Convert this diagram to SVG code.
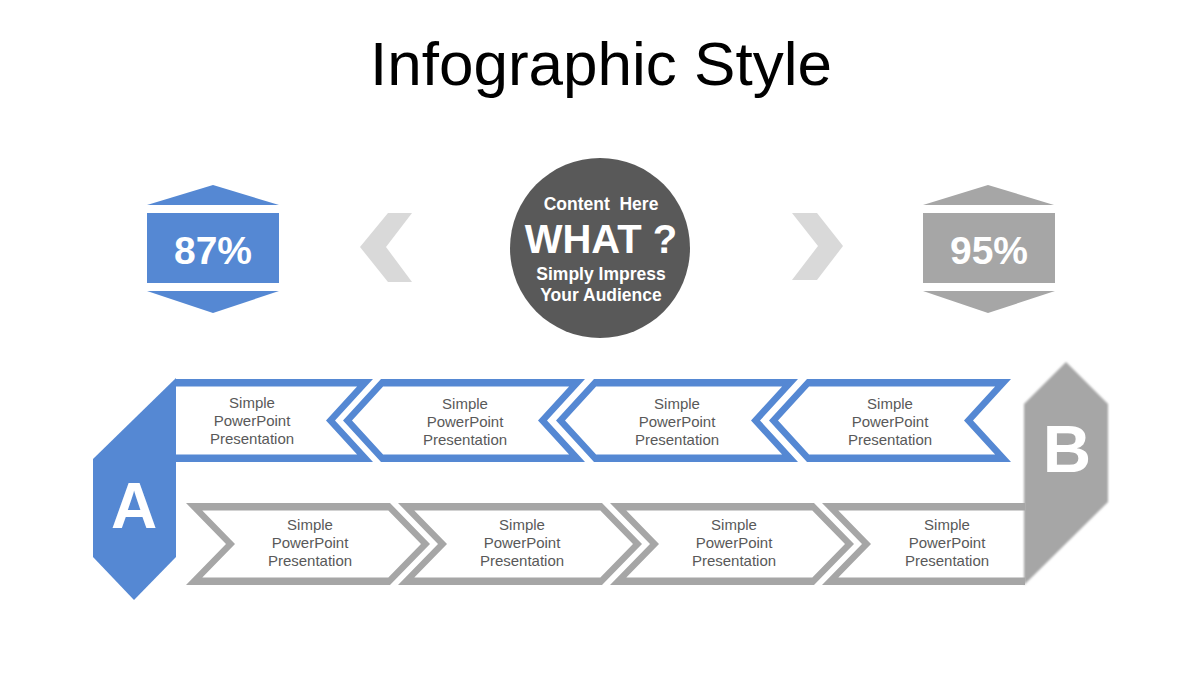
<svg xmlns="http://www.w3.org/2000/svg" xmlns:xlink="http://www.w3.org/1999/xlink" width="1200" height="675" viewBox="0 0 1200 675">
  <style>
    .title { font-family: "Liberation Sans", Arial, sans-serif; font-size: 62px; fill: #000; text-anchor: middle; }
    .blue { fill: #5588d3; }
    .gray { fill: #a6a6a6; }
    .light { fill: #d9d9d9; }
    .pct { font-family: "Liberation Sans", Arial, sans-serif; font-size: 39px; font-weight: bold; fill: #fff; text-anchor: middle; }
    .circ { font-family: "Liberation Sans", Arial, sans-serif; font-weight: bold; fill: #fff; text-anchor: middle; }
    .lbl { font-family: "Liberation Sans", Arial, sans-serif; font-size: 15px; fill: #595959; text-anchor: middle; }
    .big { font-family: "Liberation Sans", Arial, sans-serif; font-weight: bold; fill: #fff; text-anchor: middle; }
  </style>
  <defs>
    <path id="chevL" fill-rule="evenodd" d="M0,420.5 L38,379 L242,379 L204,420.5 L242,462 L38,462 Z M9,420.5 L40.1,386.5 L226.1,386.5 L195,420.5 L226.1,454.5 L40.1,454.5 Z"/>
    <path id="chevR" fill-rule="evenodd" d="M0,503 L204,503 L244,544 L204,585 L0,585 L40,544 Z M16.3,510.5 L202.3,510.5 L235,544 L202.3,577.5 L16.3,577.5 L49,544 Z"/>
    <filter id="soft" x="-10%" y="-10%" width="120%" height="120%">
      <feGaussianBlur stdDeviation="1"/>
    </filter>
  </defs>
  <rect width="1200" height="675" fill="#fff"/>
  <text class="title" x="601" y="85">Infographic Style</text>

  <g id="badge-87">
    <polygon class="blue" points="147,205 213,185 279,205"/>
    <rect class="blue" x="147" y="213" width="132" height="70"/>
    <polygon class="blue" points="147,291 279,291 213,313"/>
    <text class="pct" x="213" y="264">87%</text>
  </g>
  <g id="badge-95">
    <polygon class="gray" points="923,205 988,185 1054,205"/>
    <rect class="gray" x="923" y="213" width="132" height="70"/>
    <polygon class="gray" points="923,291 1055,291 988,313"/>
    <text class="pct" x="989" y="264">95%</text>
  </g>
  <g id="arrow-left">
    <polygon class="light" points="388,213 412,213 386,247 412,282 388,282 360,247"/>
  </g>
  <g id="arrow-right">
    <polygon class="light" points="792,213 817,213 843,246 817,280 792,280 818,246"/>
  </g>
  <g id="center">
    <circle cx="600" cy="248" r="90" fill="#595959"/>
    <text class="circ" x="601" y="210" font-size="17.5" xml:space="preserve">Content  Here</text>
    <text class="circ" x="601" y="253" font-size="40">WHAT ?</text>
    <text class="circ" x="601" y="280" font-size="17.5">Simply Impress</text>
    <text class="circ" x="601" y="301" font-size="17.5">Your Audience</text>
  </g>

  <g id="connectors">
    <g id="top-row">
      <path class="blue" fill-rule="evenodd" d="M176,379 L373,379 L335,420.5 L373,462 L176,462 Z M176,386.5 L357.1,386.5 L326,420.5 L357.1,454.5 L176,454.5 Z"/>
      <use xlink:href="#chevL" href="#chevL" class="blue" transform="translate(343,0)"/>
      <use xlink:href="#chevL" href="#chevL" class="blue" transform="translate(556,0)"/>
      <use xlink:href="#chevL" href="#chevL" class="blue" transform="translate(769,0)"/>
    </g>
    <g id="bottom-row">
      <use xlink:href="#chevR" href="#chevR" class="gray" transform="translate(186,0)"/>
      <use xlink:href="#chevR" href="#chevR" class="gray" transform="translate(398,0)"/>
      <use xlink:href="#chevR" href="#chevR" class="gray" transform="translate(610,0)"/>
      <path class="gray" fill-rule="evenodd" d="M822,503 L1025,503 L1025,585 L822,585 L862,544 Z M838.3,510.5 L1025,510.5 L1025,577.5 L838.3,577.5 L871,544 Z"/>
    </g>
  </g>

  <g id="top-labels">
    <text class="lbl" x="252"><tspan x="252" y="408">Simple</tspan><tspan x="252" y="426">PowerPoint</tspan><tspan x="252" y="444">Presentation</tspan></text>
    <text class="lbl" x="465"><tspan x="465" y="409">Simple</tspan><tspan x="465" y="427">PowerPoint</tspan><tspan x="465" y="445">Presentation</tspan></text>
    <text class="lbl" x="677"><tspan x="677" y="409">Simple</tspan><tspan x="677" y="427">PowerPoint</tspan><tspan x="677" y="445">Presentation</tspan></text>
    <text class="lbl" x="890"><tspan x="890" y="409">Simple</tspan><tspan x="890" y="427">PowerPoint</tspan><tspan x="890" y="445">Presentation</tspan></text>
  </g>
  <g id="bottom-labels">
    <text class="lbl" x="310"><tspan x="310" y="530">Simple</tspan><tspan x="310" y="548">PowerPoint</tspan><tspan x="310" y="566">Presentation</tspan></text>
    <text class="lbl" x="522"><tspan x="522" y="530">Simple</tspan><tspan x="522" y="548">PowerPoint</tspan><tspan x="522" y="566">Presentation</tspan></text>
    <text class="lbl" x="734"><tspan x="734" y="530">Simple</tspan><tspan x="734" y="548">PowerPoint</tspan><tspan x="734" y="566">Presentation</tspan></text>
    <text class="lbl" x="947"><tspan x="947" y="530">Simple</tspan><tspan x="947" y="548">PowerPoint</tspan><tspan x="947" y="566">Presentation</tspan></text>
  </g>

  <g id="node-A">
    <polygon class="blue" points="176,378 176,557 134,600 93,557 93,459"/>
    <text class="big" x="134" y="528" font-size="64">A</text>
  </g>
  <g id="node-B">
    <polygon class="gray" filter="url(#soft)" points="1024,404 1066,362 1108,404 1108,502 1024,585"/>
    <text class="big" x="1067" y="472" font-size="67">B</text>
  </g>
</svg>
